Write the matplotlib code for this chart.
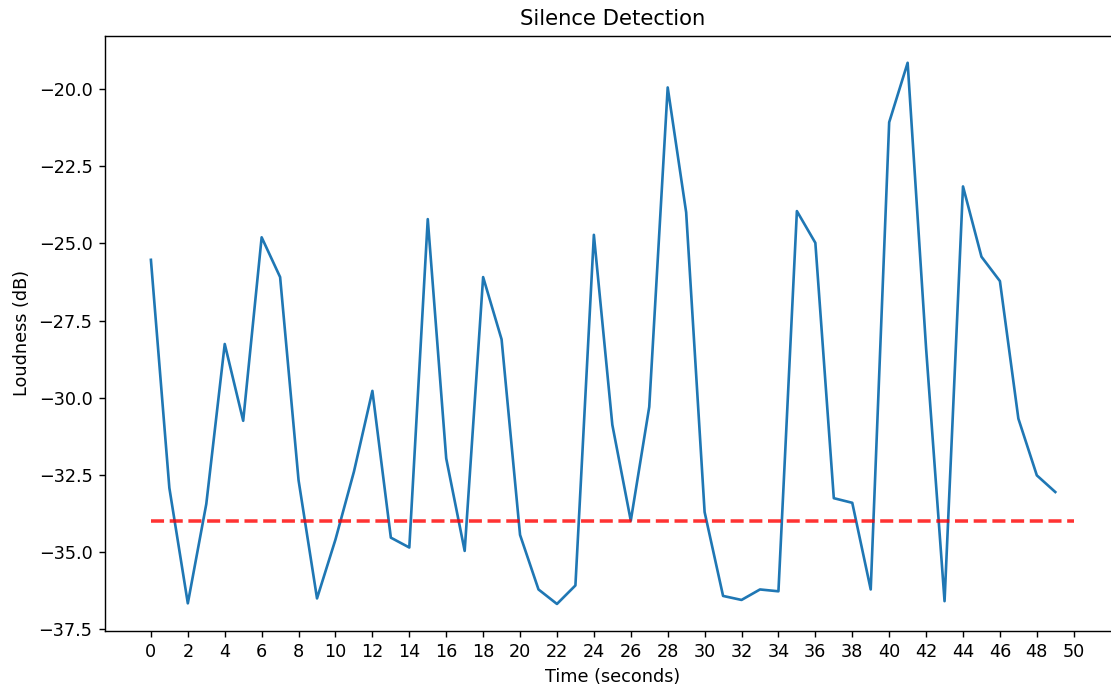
import numpy as np
import matplotlib
matplotlib.use("Agg")
import matplotlib.pyplot as plt

# loudness per second (dB)
seconds = list(range(50))
loudness = [-25.53, -32.93, -36.67, -33.45, -28.26, -30.75, -24.80, -26.09, -32.68, -36.51,
            -34.60, -32.40, -29.78, -34.54, -34.86, -24.21, -31.97, -34.97, -26.09, -28.11,
            -34.45, -36.22, -36.69, -36.09, -24.72, -30.88, -33.99, -30.30, -19.94, -23.99,
            -33.71, -36.43, -36.56, -36.22, -36.28, -23.95, -24.98, -33.26, -33.41, -36.22,
            -21.07, -19.14, -28.40, -36.60, -23.15, -25.43, -26.22, -30.68, -32.52, -33.06]
threshold = -34.0
thresh_x = [0, 50]
xticks = list(range(0, 51, 2))

fig = plt.figure(figsize=(1111 / 127, 687 / 127), dpi=127)
# the right spine sits just outside the saved picture in the reference
ax = fig.add_axes([0.0943, 0.0815, 0.9137, 0.8665])
ax.spines['right'].set_visible(False)

ax.plot(seconds, loudness)
ax.plot(thresh_x, [threshold, threshold], 'r--', linewidth=2, alpha=0.8)

ax.set_xticks(xticks)
ax.set_title('Silence Detection')
ax.set_xlabel('Time (seconds)')
ax.set_ylabel('Loudness (dB)')

fig.savefig('out.png', dpi=127)
